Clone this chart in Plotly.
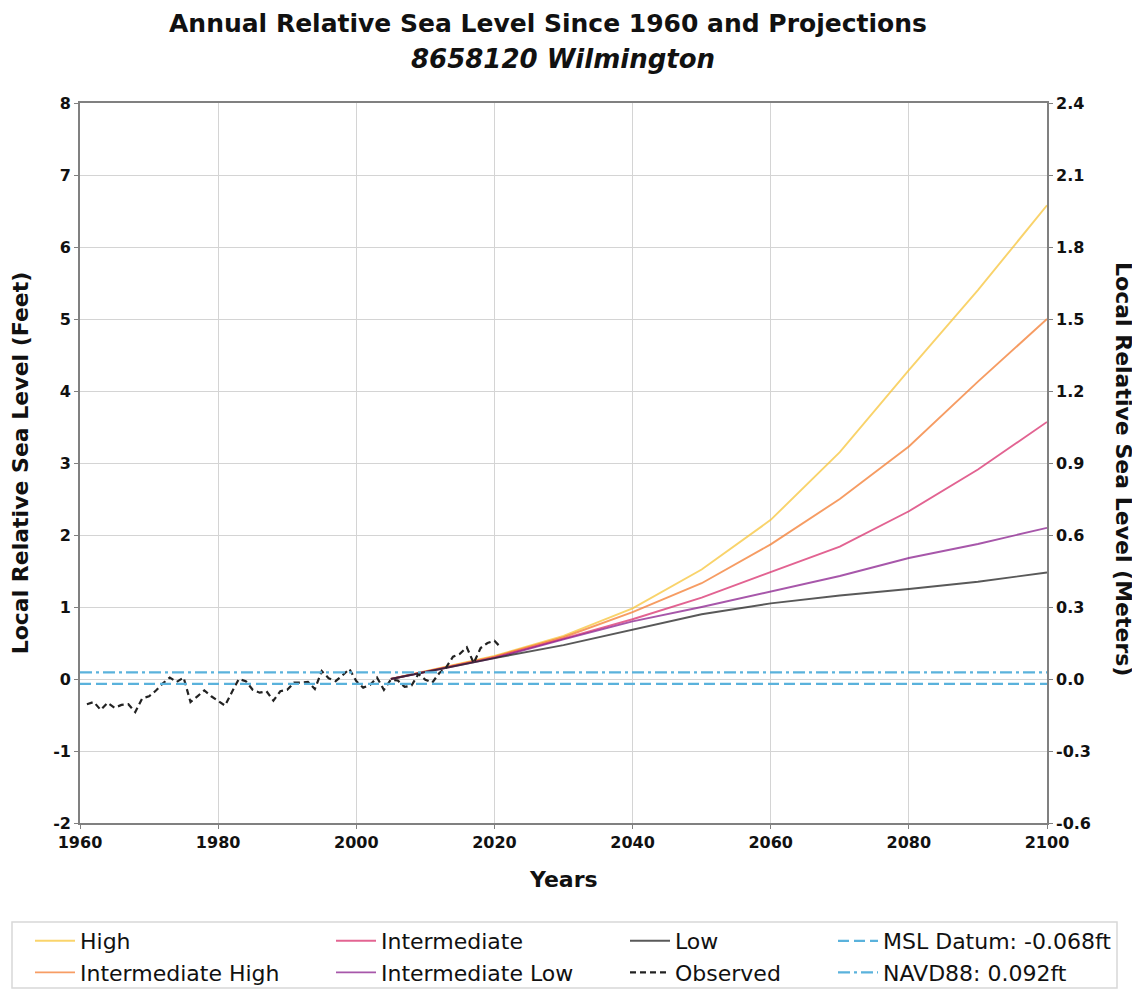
import plotly.graph_objects as go

# ---------------- data ----------------
obs_years = list(range(1961, 2022))
obs_values = [-0.35, -0.32, -0.43, -0.33, -0.40, -0.36, -0.35, -0.46, -0.27, -0.24,
              -0.16, -0.06, 0.02, -0.04, 0.02, -0.32, -0.24, -0.16, -0.24, -0.31,
              -0.37, -0.18, 0.00, -0.03, -0.15, -0.19, -0.17, -0.30, -0.17, -0.15,
              -0.05, -0.05, -0.04, -0.14, 0.11, 0.01, -0.03, 0.05, 0.14, -0.03,
              -0.12, -0.08, 0.02, -0.15, -0.01, -0.02, -0.11, -0.09, 0.07, -0.01,
              -0.05, 0.08, 0.16, 0.31, 0.35, 0.44, 0.22, 0.43, 0.50, 0.53, 0.43]

proj_years = [2005, 2020, 2030, 2040, 2050, 2060, 2070, 2080, 2090, 2100]
high = [0, 0.32, 0.60, 0.98, 1.52, 2.21, 3.15, 4.29, 5.40, 6.58]
int_high = [0, 0.31, 0.58, 0.93, 1.33, 1.87, 2.50, 3.23, 4.13, 5.00]
intermediate = [0, 0.30, 0.56, 0.83, 1.13, 1.48, 1.84, 2.33, 2.91, 3.57]
int_low = [0, 0.29, 0.55, 0.80, 1.00, 1.22, 1.43, 1.68, 1.875, 2.10]
low = [0, 0.29, 0.47, 0.69, 0.90, 1.05, 1.16, 1.25, 1.35, 1.48]

msl_datum = -0.068
navd88 = 0.092
x_range = [1960, 2100]
x_ticks = [1960, 1980, 2000, 2020, 2040, 2060, 2080, 2100]
ft_ticks = [-2, -1, 0, 1, 2, 3, 4, 5, 6, 7, 8]
ft_labels = ["-2", "-1", "0", "1", "2", "3", "4", "5", "6", "7", "8"]
m_ticks = [-0.6, -0.3, 0.0, 0.3, 0.6, 0.9, 1.2, 1.5, 1.8, 2.1, 2.4]
m_labels = ["-0.6", "-0.3", "0.0", "0.3", "0.6", "0.9", "1.2", "1.5", "1.8", "2.1", "2.4"]

# ---------------- figure ----------------
FONT = "DejaVu Sans"
fig = go.Figure()

def proj(name, y, color, legend):
    fig.add_trace(go.Scatter(x=proj_years, y=y, mode="lines", name=name,
                             line=dict(color=color, width=1.9), opacity=0.75,
                             legend=legend))

proj("High", high, "#f8c53a", "legend")
proj("Intermediate High", int_high, "#f47c30", "legend")
proj("Intermediate", intermediate, "#d9306e", "legend2")
proj("Intermediate Low", int_low, "#8a1f8e", "legend2")
proj("Low", low, "#222222", "legend3")

fig.add_trace(go.Scatter(x=obs_years, y=obs_values, mode="lines", name="Observed",
                         line=dict(color="#222222", width=2.2, dash="6px,4px"),
                         legend="legend3"))

fig.add_trace(go.Scatter(x=x_range, y=[msl_datum, msl_datum], mode="lines",
                         name="MSL Datum: -0.068ft",
                         line=dict(color="#5ab2dc", width=2.2, dash="11px,5px"),
                         legend="legend4"))
fig.add_trace(go.Scatter(x=x_range, y=[navd88, navd88], mode="lines",
                         name="NAVD88: 0.092ft",
                         line=dict(color="#5ab2dc", width=2.2, dash="12px,4px,3px,4px"),
                         legend="legend4"))

# empty trace to activate right axis
fig.add_trace(go.Scatter(x=[], y=[], yaxis="y2", showlegend=False))

tickfont = dict(family=FONT, size=16, color="#111111")
axis_common = dict(showline=True, linecolor="#808080", linewidth=1.6,
                   ticks="outside", ticklen=4, tickcolor="#808080",
                   tickfont=tickfont, zeroline=False)

# reference pixel geometry (page has an 8px body offset)
OFF = 8
W, H = 1140 - OFF, 990 - OFF
PX_L, PX_R, PX_T, PX_B = 80, 1047, 103, 823

def px_x(px):
    return (px - PX_L) / (PX_R - PX_L)

def px_y(py):
    return (PX_B - py) / (PX_B - PX_T)

def cont_y(py):
    return 1 - (py - OFF) / H

legend_common = dict(orientation="v", bgcolor="rgba(0,0,0,0)",
                     font=dict(family=FONT, size=22, color="#111111"),
                     xref="paper", yref="container", yanchor="top", xanchor="left",
                     tracegroupgap=0, itemwidth=40)
leg_top = cont_y(920)

fig.update_layout(
    width=W, height=H,
    margin=dict(l=PX_L - OFF, r=W - (PX_R - OFF), t=PX_T - OFF, b=H - (PX_B - OFF),
                autoexpand=False),
    plot_bgcolor="white", paper_bgcolor="white",
    font=dict(family=FONT, color="#111111"),
    xaxis=dict(range=x_range, tickvals=x_ticks,
               ticktext=["<b>%d</b>" % v for v in x_ticks],
               mirror=True, showgrid=True, gridcolor="#d4d4d4", gridwidth=1,
               **axis_common),
    yaxis=dict(range=[ft_ticks[0], ft_ticks[-1]], tickvals=ft_ticks,
               ticktext=["<b>%s</b>" % t for t in ft_labels],
               showgrid=True, gridcolor="#d4d4d4", gridwidth=1, **axis_common,
               title=dict(text="<b>Local Relative Sea Level (Feet)</b>",
                          font=dict(family=FONT, size=22), standoff=22)),
    yaxis2=dict(range=[m_ticks[0], m_ticks[-1]], tickvals=m_ticks,
                ticktext=["<b>%s</b>" % t for t in m_labels],
                overlaying="y", side="right", showgrid=False, **axis_common),
    legend=dict(x=px_x(30), y=leg_top, **legend_common),
    legend2=dict(x=px_x(331), y=leg_top, **legend_common),
    legend3=dict(x=px_x(625), y=leg_top, **legend_common),
    legend4=dict(x=px_x(833), y=leg_top, **legend_common),
    showlegend=True,
)

annotations = [
    dict(text="<b>Annual Relative Sea Level Since 1960 and Projections</b>",
         x=px_x(548), y=px_y(24), xref="paper", yref="paper",
         showarrow=False, font=dict(family=FONT, size=25, color="#111111"),
         xanchor="center", yanchor="middle"),
    dict(text="<b><i>8658120 Wilmington</i></b>",
         x=px_x(563), y=px_y(59), xref="paper", yref="paper",
         showarrow=False, font=dict(family=FONT, size=26, color="#111111"),
         xanchor="center", yanchor="middle"),
    dict(text="<b>Years</b>", x=px_x(563), y=px_y(879), xref="paper", yref="paper",
         showarrow=False, font=dict(family=FONT, size=22, color="#111111"),
         xanchor="center", yanchor="middle"),
    dict(text="<b>Local Relative Sea Level (Meters)</b>", x=px_x(1124), y=px_y(469),
         xref="paper", yref="paper", showarrow=False, textangle=90,
         font=dict(family=FONT, size=22, color="#111111"),
         xanchor="center", yanchor="middle"),
]
fig.update_layout(annotations=annotations)

fig.add_shape(type="rect", xref="paper", yref="paper",
              x0=px_x(12), x1=px_x(1117), y0=px_y(988), y1=px_y(922),
              line=dict(color="#d8d8d8", width=1.5), fillcolor="rgba(0,0,0,0)",
              layer="above")

fig.write_html("out.html")
